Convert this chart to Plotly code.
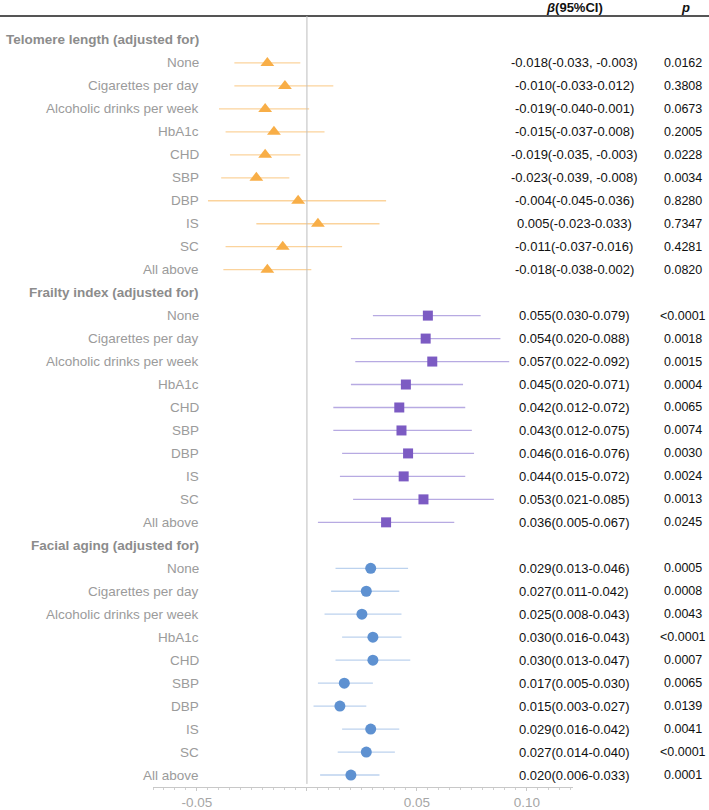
import plotly.graph_objects as go

groups = ["Telomere length (adjusted for)", "Frailty index (adjusted for)", "Facial aging (adjusted for)"]
adjust = ["None", "Cigarettes per day", "Alcoholic drinks per week", "HbA1c", "CHD",
          "SBP", "DBP", "IS", "SC", "All above"]

tel_beta = [-0.018, -0.010, -0.019, -0.015, -0.019, -0.023, -0.004, 0.005, -0.011, -0.018]
tel_lo = [-0.033, -0.033, -0.040, -0.037, -0.035, -0.039, -0.045, -0.023, -0.037, -0.038]
tel_hi = [-0.003, 0.012, 0.001, 0.008, -0.003, -0.008, 0.036, 0.033, 0.016, 0.002]
tel_txt = ["-0.018(-0.033, -0.003)", "-0.010(-0.033-0.012)", "-0.019(-0.040-0.001)",
           "-0.015(-0.037-0.008)", "-0.019(-0.035, -0.003)", "-0.023(-0.039, -0.008)",
           "-0.004(-0.045-0.036)", "0.005(-0.023-0.033)", "-0.011(-0.037-0.016)",
           "-0.018(-0.038-0.002)"]
tel_p = ["0.0162", "0.3808", "0.0673", "0.2005", "0.0228", "0.0034", "0.8280", "0.7347", "0.4281", "0.0820"]

fra_beta = [0.055, 0.054, 0.057, 0.045, 0.042, 0.043, 0.046, 0.044, 0.053, 0.036]
fra_lo = [0.030, 0.020, 0.022, 0.020, 0.012, 0.012, 0.016, 0.015, 0.021, 0.005]
fra_hi = [0.079, 0.088, 0.092, 0.071, 0.072, 0.075, 0.076, 0.072, 0.085, 0.067]
fra_txt = ["0.055(0.030-0.079)", "0.054(0.020-0.088)", "0.057(0.022-0.092)", "0.045(0.020-0.071)",
           "0.042(0.012-0.072)", "0.043(0.012-0.075)", "0.046(0.016-0.076)", "0.044(0.015-0.072)",
           "0.053(0.021-0.085)", "0.036(0.005-0.067)"]
fra_p = ["<0.0001", "0.0018", "0.0015", "0.0004", "0.0065", "0.0074", "0.0030", "0.0024", "0.0013", "0.0245"]

fac_beta = [0.029, 0.027, 0.025, 0.030, 0.030, 0.017, 0.015, 0.029, 0.027, 0.020]
fac_lo = [0.013, 0.011, 0.008, 0.016, 0.013, 0.005, 0.003, 0.016, 0.014, 0.006]
fac_hi = [0.046, 0.042, 0.043, 0.043, 0.047, 0.030, 0.027, 0.042, 0.040, 0.033]
fac_txt = ["0.029(0.013-0.046)", "0.027(0.011-0.042)", "0.025(0.008-0.043)", "0.030(0.016-0.043)",
           "0.030(0.013-0.047)", "0.017(0.005-0.030)", "0.015(0.003-0.027)", "0.029(0.016-0.042)",
           "0.027(0.014-0.040)", "0.020(0.006-0.033)"]
fac_p = ["0.0005", "0.0008", "0.0043", "<0.0001", "0.0007", "0.0065", "0.0139", "0.0041", "<0.0001", "0.0001"]

x_ticks = [-0.05, 0, 0.05, 0.10]
x_tick_text = ["-0.05", "", "0.05", "0.10"]

series = [
    (tel_beta, tel_lo, tel_hi, tel_txt, tel_p, "triangle-up", "#F8AE47", "#FBD39C", 12),
    (fra_beta, fra_lo, fra_hi, fra_txt, fra_p, "square", "#7C5BC3", "#B7AAE2", 10),
    (fac_beta, fac_lo, fac_hi, fac_txt, fac_p, "circle", "#5E91D1", "#BCD2EE", 11),
]

FONT = "Arial, Liberation Sans, sans-serif"
W = 709.0
fig = go.Figure()
annotations = []

row = 0
for gi, (beta, lo, hi, txt, pv, sym, mcol, lcol, msz) in enumerate(series):
    annotations.append(dict(x=201 / W, xref="paper", y=-row, yref="y", text="<b>" + groups[gi] + "</b>",
                            xanchor="right", yanchor="middle", showarrow=False,
                            font=dict(family=FONT, size=13.5, color="#8c8c8c")))
    row += 1
    ys = []
    for k in range(len(adjust)):
        y = -(row + k)
        ys.append(y)
        annotations.append(dict(x=201 / W, xref="paper", y=y, yref="y", text=adjust[k],
                                xanchor="right", yanchor="middle", showarrow=False,
                                font=dict(family=FONT, size=13.5, color="#9b9b9b")))
        annotations.append(dict(x=574 / W, xref="paper", y=y, yref="y", text=txt[k],
                                xanchor="center", yanchor="middle", showarrow=False,
                                font=dict(family=FONT, size=13, color="#111111")))
        annotations.append(dict(x=683 / W, xref="paper", y=y, yref="y", text=pv[k],
                                xanchor="center", yanchor="middle", showarrow=False,
                                font=dict(family=FONT, size=12.5, color="#111111")))
    fig.add_trace(go.Scatter(
        x=beta, y=ys, mode="markers",
        marker=dict(symbol=sym, size=msz, color=mcol, line=dict(width=0)),
        error_x=dict(type="data", symmetric=False,
                     array=[h - b for h, b in zip(hi, beta)],
                     arrayminus=[b - l for b, l in zip(beta, lo)],
                     color=lcol, thickness=1.3, width=0),
        showlegend=False, cliponaxis=False, hoverinfo="skip"))
    row += len(adjust)

annotations.append(dict(x=574 / W, xref="paper", y=1, yref="paper", yshift=9, text="<b><i>β</i>(95%CI)</b>",
                        xanchor="center", yanchor="middle", showarrow=False,
                        font=dict(family=FONT, size=13, color="#111111")))
annotations.append(dict(x=685 / W, xref="paper", y=1, yref="paper", yshift=9, text="<b><i>p</i></b>",
                        xanchor="center", yanchor="middle", showarrow=False,
                        font=dict(family=FONT, size=13, color="#111111")))

shapes = [
    dict(type="line", xref="paper", yref="paper", x0=0, x1=1, y0=1, y1=1,
         line=dict(color="#555555", width=2)),
    dict(type="line", xref="x", yref="paper", x0=0, x1=0, y0=0.004, y1=1,
         line=dict(color="#bdbdbd", width=1)),
]

rows_total = row
fig.update_layout(
    width=709, height=810,
    margin=dict(l=0, r=0, t=16, b=20),
    paper_bgcolor="white", plot_bgcolor="white",
    annotations=annotations, shapes=shapes,
    xaxis=dict(domain=[153 / W, 573 / W], range=[-0.07, 0.121],
               tickvals=x_ticks, ticktext=x_tick_text, showgrid=False, zeroline=False,
               showline=True, linecolor="#c8c8c8", linewidth=1,
               ticks="outside", ticklen=3, tickcolor="#c8c8c8",
               minor=dict(dtick=0.005, ticks="outside", ticklen=2, tickcolor="#d0d0d0"),
               tickfont=dict(family=FONT, size=13.5, color="#a6a6a6")),
    yaxis=dict(range=[-(rows_total - 1) - 12 / 23.0, 24 / 23.0], showgrid=False,
               zeroline=False, showticklabels=False, showline=False, ticks=""),
)

fig.write_html("out.html", config={"displayModeBar": False},
               post_script="document.body.style.margin='0';document.body.style.overflow='hidden';")
